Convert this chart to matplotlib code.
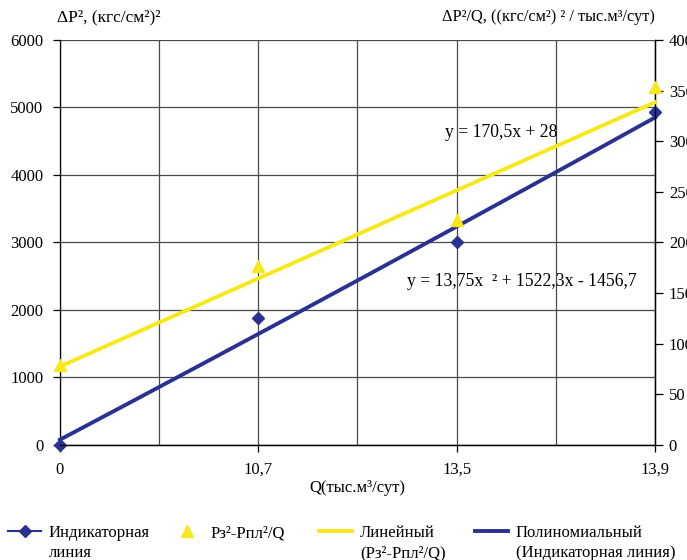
import matplotlib as mpl
import matplotlib.pyplot as plt
import numpy as np
from matplotlib.lines import Line2D

mpl.rcParams["font.family"] = ["Liberation Serif", "DejaVu Serif"]
mpl.rcParams["font.size"] = 12

BLUE = "#2b3192"
YELLOW = "#f7e81c"
GRID = "#4a4a4a"

q_labels = ["0", "10,7", "13,5", "13,9"]
dp2 = [0, 1880, 3000, 4930]            # ΔP², left axis
dp2_q = [79, 177, 222, 354]            # ΔP²/Q, right axis
lin_text = "y = 170,5x + 28"
poly_text = "y = 13,75x  ² + 1522,3x - 1456,7"
legend_first = ["Индикаторная", "Рз²-Рпл²/Q", "Линейный", "Полиномиальный"]
legend_second = ["линия", "", "(Рз²-Рпл²/Q)", "(Индикаторная линия)"]
legend_x = [8, 170, 319, 475]           # handle start, px


def main():
    fig = plt.figure(figsize=(6.87, 5.6), dpi=100)
    ax = fig.add_axes([0.0873, 0.2054, 0.8661, 0.7232])
    ax2 = ax.twinx()

    pos = np.arange(len(q_labels))
    xs = np.linspace(0, pos[-1], 200)

    # trend lines fitted from the points
    poly = np.polyfit(pos, dp2, 2)
    lin = np.polyfit(pos, dp2_q, 1)

    ax.plot(xs, np.polyval(poly, xs), color=BLUE, lw=2.8, zorder=3, clip_on=False)
    ax.plot(pos, dp2, ls="none", marker="D", ms=6, color=BLUE, zorder=4, clip_on=False)
    ax2.plot(xs, np.polyval(lin, xs), color=YELLOW, lw=2.8, zorder=3, clip_on=False)
    ax2.plot(pos, dp2_q, ls="none", marker="^", ms=8, color=YELLOW, zorder=4, clip_on=False)

    ax.set_xlim(0, pos[-1])
    ax.set_ylim(0, 6000)
    ax2.set_ylim(0, 400)
    ax.set_yticks(np.arange(0, 6001, 1000))
    ax2.set_yticks(np.arange(0, 401, 50))
    ax.set_xticks(pos)
    ax.set_xticklabels(q_labels)
    ax.set_xticks(np.arange(0.5, pos[-1], 1), minor=True)

    ax.grid(True, which="both", axis="x", color=GRID, lw=0.9)
    ax.grid(True, axis="y", color=GRID, lw=0.9)
    ax.set_axisbelow(True)
    ax.tick_params(axis="x", which="minor", length=0)
    ax.tick_params(axis="both", direction="out", length=5, width=0.9, pad=7)
    ax2.tick_params(axis="y", direction="out", length=6, width=0.9, pad=4)
    for a in (ax, ax2):
        a.spines["top"].set_visible(False)
        for s in ("left", "right", "bottom"):
            a.spines[s].set_linewidth(0.9)
    ax2.spines["left"].set_visible(False)

    ax.set_xlabel("Q(тыс.м³/сут)", labelpad=2)
    fig.text(0.083, 0.955, "ΔP², (кгс/см²)²", ha="left", va="bottom", fontsize=12.5)
    fig.text(0.953, 0.955, "ΔP²/Q, ((кгс/см²) ² / тыс.м³/сут)", ha="right", va="bottom", fontsize=11.8)

    fig.text(0.648, 0.764, lin_text, ha="left", va="center", fontsize=12.7)
    fig.text(0.592, 0.498, poly_text, ha="left", va="center", fontsize=12.7)

    handles = [
        Line2D([], [], color=BLUE, lw=1.5, marker="D", ms=6),
        Line2D([], [], ls="none", color=YELLOW, marker="^", ms=8),
        Line2D([], [], color=YELLOW, lw=2.8),
        Line2D([], [], color=BLUE, lw=2.8),
    ]
    W, H = fig.get_size_inches() * fig.dpi
    legends = []
    for h, lab, x in zip(handles, legend_first, legend_x):
        leg = fig.legend([h], [lab], loc="center left", bbox_to_anchor=(x / W, 1 - 533 / H),
                         frameon=False, handlelength=2.0, handletextpad=0.45,
                         borderpad=0, borderaxespad=0)
        legends.append(leg)

    fig.canvas.draw()
    for leg, second in zip(legends, legend_second):
        if not second:
            continue
        bb = leg.get_texts()[0].get_window_extent()
        fig.text(bb.x0 / W, 1 - 553 / H, second, ha="left", va="center")

    fig.savefig("out.png", dpi=100)
    plt.close(fig)


if __name__ == "__main__":
    main()
